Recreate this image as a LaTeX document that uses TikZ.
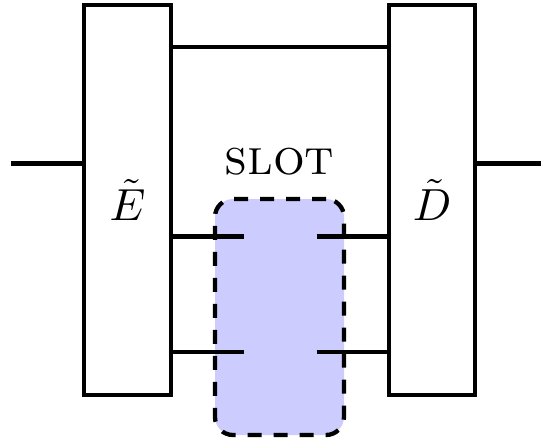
\documentclass[tikz,border=0pt]{standalone}
\usepackage{graphicx}
\begin{document}
\begin{tikzpicture}[x=1pt,y=-1pt,
  wire/.style={line width=4.3pt},
  blockbox/.style={draw,line width=4.3pt,minimum width=86.5pt,minimum height=390pt,inner sep=0pt},
  slotbox/.style={draw,line width=4.3pt,dash pattern=on 14pt off 12pt,rounded corners=18pt,fill=blue!20,minimum width=129pt,minimum height=236pt,inner sep=0pt},
  lbl/.style={scale=5,inner sep=0pt}]
\useasboundingbox (0,0) rectangle (541,442);
\node[slotbox] (S) at (279.5,317) {};
\node[blockbox] (E) at (127.5,200) {\scalebox{4.5}{$\tilde{E}$}};
\node[blockbox] (D) at (432,200) {\scalebox{4.5}{$\tilde{D}$}};
\node[lbl,anchor=base] (slotlbl) at (279.5,174.3) {\textsc{slot}};
\coordinate (in) at (11,163.5);
\coordinate (out) at (541,163.5);
\coordinate (top) at (0,47);
\coordinate (w1l) at (243.5,236.5);
\coordinate (w1r) at (316.5,236.5);
\coordinate (w2l) at (243.5,352);
\coordinate (w2r) at (316.5,352);
\draw[wire] (in) -- (in -| E.west);
\draw[wire] (out -| D.east) -- (out);
\draw[wire] (top -| E.east) -- (top -| D.west);
\draw[wire] (w1l -| E.east) -- (w1l);
\draw[wire] (w1r) -- (w1r -| D.west);
\draw[wire] (w2l -| E.east) -- (w2l);
\draw[wire] (w2r) -- (w2r -| D.west);
\end{tikzpicture}
\end{document}
